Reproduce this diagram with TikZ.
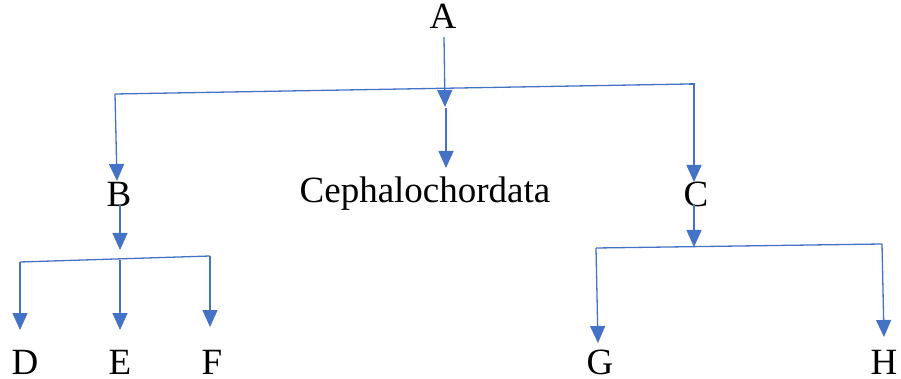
\documentclass[tikz,border=0pt]{standalone}
\usepackage{fontspec}
\setmainfont{Liberation Serif}
\usetikzlibrary{arrows.meta}
\definecolor{lblue}{HTML}{4472C4}
\begin{document}
\begin{tikzpicture}[x=1pt,y=-1pt,
  lab/.style={inner sep=0pt,font=\fontsize{37}{40}\selectfont},
  conn/.style={draw=lblue,line width=1.3pt},
  arr/.style={conn,-{Triangle[length=17pt,width=15pt]},color=lblue}]
\useasboundingbox (0,0) rectangle (901,379);
\node[lab] (A) at (443,16) {A};
\node[lab] (B) at (119,194) {B};
\node[lab] (Ceph) at (425,194) {Cephalochordata};
\node[lab] (C) at (696,194) {C};
\node[lab] (D) at (25,362) {D};
\node[lab] (E) at (120,362) {E};
\node[lab] (F) at (212,362) {F};
\node[lab] (G) at (600,362) {G};
\node[lab] (H) at (884,362) {H};
% top bar
\coordinate (t1) at (115,94);
\coordinate (t2) at (689,84);
\coordinate (tl) at (117,181);
\coordinate (tr) at (694,182);
\coordinate (a0) at (444,37);
\coordinate (a1) at (445,107);
\coordinate (c0) at (446,108);
\coordinate (c1) at (446,168);
\draw[conn] (t1) -- (t2);
\draw[arr] (a0) -- (a1);
\draw[arr] (c0) -- (c1);
\draw[arr] (t1) -- (tl);
\draw[arr] (t2) -| (tr);
% B group
\coordinate (b0) at (120,205);
\coordinate (b1) at (120,250);
\coordinate (bl) at (20,262);
\coordinate (bm) at (120,260);
\coordinate (br) at (210,256);
\coordinate (dt) at (20,330);
\coordinate (et) at (120,330);
\coordinate (ft) at (210,327);
\draw[arr] (b0) -- (b1);
\draw[conn] (bl) -- (br);
\draw[arr] (bl) -- (dt);
\draw[arr] (bm) -- (et);
\draw[arr] (br) -- (ft);
% C group
\coordinate (k0) at (694,204);
\coordinate (k1) at (694,247);
\coordinate (cl) at (596,248);
\coordinate (cr) at (882,244);
\coordinate (gt) at (598,343);
\coordinate (ht) at (884,337);
\draw[arr] (k0) -- (k1);
\draw[conn] (cl) -- (cr);
\draw[arr] (cl) -- (gt);
\draw[arr] (cr) -- (ht);
\end{tikzpicture}
\end{document}
